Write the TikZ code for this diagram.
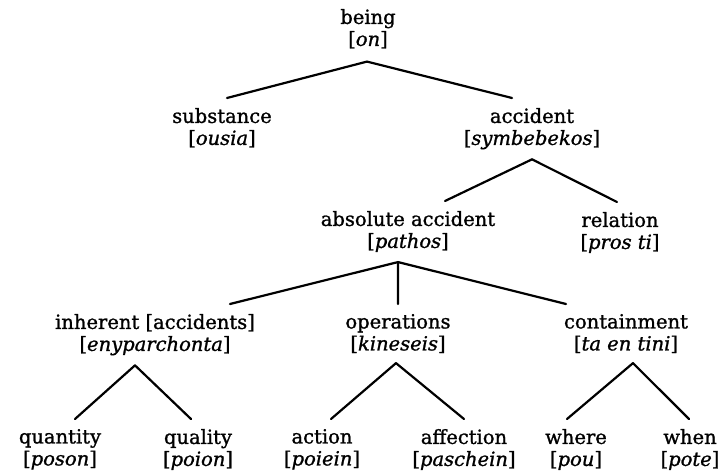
\documentclass[tikz,border=0pt]{standalone}
\usepackage{fontspec}
\setmainfont{DejaVu Serif}[FakeBold=1.2]

\begin{document}
\begin{tikzpicture}[x=1bp, y=-1bp,
   every node/.style={align=center, anchor=north, inner xsep=2bp, inner ysep=9bp,
     font=\fontsize{19.5bp}{22bp}\selectfont},
   line width=2.2bp, line cap=round]

\useasboundingbox (0,0) rectangle (726,471);

\node[inner ysep=12bp] (being) at (368,-4) {being\\{[}\textit{on}]};

\node (substance) at (222,98) {substance\\{[}\textit{ousia}]};
\node (accident) at (532,98) {accident\\{[}\textit{symbebekos}]};

\node (absolute) at (408,201) {absolute accident\\{[}\textit{pathos}]};
\node (relation) at (620,202) {relation\\{[}\textit{pros ti}]};

\node (inherent) at (155,304) {inherent [accidents]\\{[}\textit{enyparchonta}]};
\node (operations) at (398,304) {operations\\{[}\textit{kineseis}]};
\node (containment) at (626,304) {containment\\{[}\textit{ta en tini}]};

\node (quantity) at (60,419) {quantity\\{[}\textit{poson}]};
\node (quality) at (198,419) {quality\\{[}\textit{poion}]};
\node (action) at (322,419) {action\\{[}\textit{poiein}]};
\node (affection) at (464,419) {affection\\{[}\textit{paschein}]};
\node (where) at (576,419) {where\\{[}\textit{pou}]};
\node (when) at (690,419) {when\\{[}\textit{pote}]};

\foreach \p/\ps/\c/\cs in {being/-1/substance/5, being/-1/accident/-20,
    accident/0/absolute/37, accident/0/relation/-3,
    absolute/-10/inherent/75, absolute/-10/operations/0, absolute/-10/containment/-60,
    inherent/-20/quantity/15, inherent/-20/quality/-7,
    operations/-2/action/9, operations/-2/affection/0,
    containment/7/where/-9, containment/7/when/-1}
  \draw ([xshift=\ps bp]\p.south) -- ([xshift=\cs bp]\c.north);

\end{tikzpicture}
\end{document}
